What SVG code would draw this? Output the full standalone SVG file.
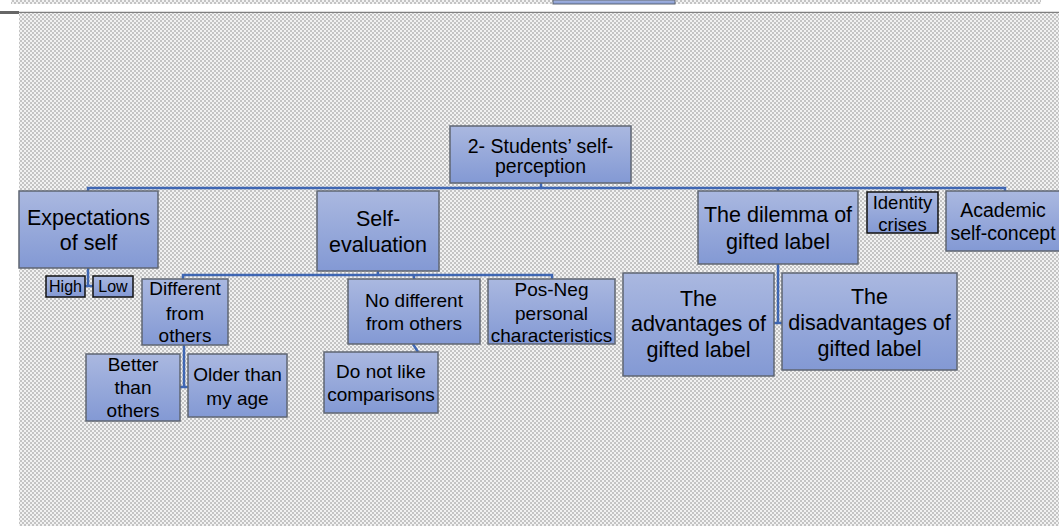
<svg xmlns="http://www.w3.org/2000/svg" width="1059" height="526" viewBox="0 0 1059 526">
  <defs>
    <pattern id="checker" width="4" height="4" patternUnits="userSpaceOnUse">
      <rect width="4" height="4" fill="#f2f2f2"/>
      <rect width="2" height="2" fill="#c4c4c4"/>
      <rect x="2" y="2" width="2" height="2" fill="#c4c4c4"/>
    </pattern>
    <linearGradient id="boxFill" x1="0" y1="0" x2="0" y2="1">
      <stop offset="0" stop-color="#aab8e0"/>
      <stop offset="1" stop-color="#8399d4"/>
    </linearGradient>
  </defs>
  <style>
    .box { fill: url(#boxFill); stroke: #5f6672; stroke-width: 1.5; }
    .sbox { fill: url(#boxFill); stroke: #111; stroke-width: 1.5; }
    .lbl { font-family: "Liberation Sans", Arial, sans-serif; fill: #000; text-anchor: middle; }
    .xl { font-size: 21.5px; }
    .md { font-size: 19px; }
    .sm { font-size: 16px; }
    .conn { fill: none; stroke: #3e66b3; stroke-width: 2.5; }
  </style>

  <!-- page background -->
  <rect width="1059" height="526" fill="#fff"/>
  <rect x="11" y="0" width="1030" height="4" fill="url(#checker)"/>
  <rect x="553" y="0" width="122" height="4" fill="url(#boxFill)" stroke="#5f6672" stroke-width="1"/>
  <line x1="0" y1="12.5" x2="1059" y2="12.5" stroke="#7f7f7f" stroke-width="1.5"/>
  <line x1="0" y1="12.5" x2="19" y2="12.5" stroke="#666" stroke-width="3"/>
  <rect x="19" y="13" width="1040" height="513" fill="url(#checker)"/>

  <!-- connectors -->
  <g id="connectors" class="conn">
    <path d="M88,191 V188 H1005 V191"/>
    <path d="M541,183 V188"/>
    <path d="M378,188 V191"/>
    <path d="M778,188 V191"/>
    <path d="M902,188 V192"/>
    <path d="M88,268 V286 H85 M88,286 H93"/>
    <path d="M378,271 V275"/>
    <path d="M183,279 V275 H552 V279"/>
    <path d="M414,275 V279"/>
    <path d="M184,345 V387 H180 M184,387 H188"/>
    <path d="M413,344 L418,352"/>
    <path d="M778,264 V323 H774 M778,323 H782"/>
  </g>

  <g id="root">
    <rect class="box" x="450" y="126" width="181" height="57"/>
    <text class="lbl" x="540.5" y="153" font-size="19.5">2- Students’ self-</text>
    <text class="lbl" x="540.5" y="173" font-size="19.5">perception</text>
  </g>

  <g id="expectations">
    <rect class="box" x="19" y="191" width="139" height="77"/>
    <text class="lbl xl" x="88.5" y="224.5">Expectations</text>
    <text class="lbl xl" x="88.5" y="249.5">of self</text>
  </g>

  <g id="high">
    <rect class="sbox" x="46" y="276" width="39" height="21"/>
    <text class="lbl sm" x="65.5" y="292">High</text>
  </g>

  <g id="low">
    <rect class="sbox" x="93" y="276" width="40" height="21"/>
    <text class="lbl sm" x="113" y="292">Low</text>
  </g>

  <g id="self-evaluation">
    <rect class="box" x="317" y="191" width="122" height="80"/>
    <text class="lbl xl" x="378" y="225.5">Self-</text>
    <text class="lbl xl" x="378" y="251.5">evaluation</text>
  </g>

  <g id="different">
    <rect class="box" x="142" y="279" width="86" height="66"/>
    <text class="lbl md" x="185" y="294.5">Different</text>
    <text class="lbl md" x="185" y="319.5">from</text>
    <text class="lbl md" x="185" y="341.5">others</text>
  </g>

  <g id="better">
    <rect class="box" x="86" y="354" width="94" height="67"/>
    <text class="lbl md" x="133" y="370.5">Better</text>
    <text class="lbl md" x="133" y="393.5">than</text>
    <text class="lbl md" x="133" y="416.5">others</text>
  </g>

  <g id="older">
    <rect class="box" x="188" y="354" width="99" height="63"/>
    <text class="lbl md" x="237.5" y="380.5">Older than</text>
    <text class="lbl md" x="237.5" y="404.5">my age</text>
  </g>

  <g id="no-different">
    <rect class="box" x="348" y="279" width="132" height="65"/>
    <text class="lbl md" x="414" y="306.5">No different</text>
    <text class="lbl md" x="414" y="329.5">from others</text>
  </g>

  <g id="comparisons">
    <rect class="box" x="324" y="352" width="114" height="61"/>
    <text class="lbl md" x="381" y="377.5">Do not like</text>
    <text class="lbl md" x="381" y="400.5">comparisons</text>
  </g>

  <g id="pos-neg">
    <rect class="box" x="488" y="279" width="127" height="65"/>
    <text class="lbl md" x="551.5" y="295.5">Pos-Neg</text>
    <text class="lbl md" x="551.5" y="319.5">personal</text>
    <text class="lbl md" x="551.5" y="341.5">characteristics</text>
  </g>

  <g id="dilemma">
    <rect class="box" x="698" y="191" width="160" height="73"/>
    <text class="lbl xl" x="778" y="221.5">The dilemma of</text>
    <text class="lbl xl" x="778" y="248.5">gifted label</text>
  </g>

  <g id="advantages">
    <rect class="box" x="623" y="273" width="151" height="103"/>
    <text class="lbl xl" x="698.5" y="305.5">The</text>
    <text class="lbl xl" x="698.5" y="330.5">advantages of</text>
    <text class="lbl xl" x="698.5" y="356.5">gifted label</text>
  </g>

  <g id="disadvantages">
    <rect class="box" x="782" y="273" width="175" height="97"/>
    <text class="lbl xl" x="869.5" y="303.5">The</text>
    <text class="lbl xl" x="869.5" y="329.5">disadvantages of</text>
    <text class="lbl xl" x="869.5" y="355.5">gifted label</text>
  </g>

  <g id="identity">
    <rect class="sbox" x="867" y="192" width="71" height="41"/>
    <text class="lbl" x="902.5" y="208.5" font-size="18.5">Identity</text>
    <text class="lbl" x="902.5" y="230.5" font-size="18.5">crises</text>
  </g>

  <g id="academic">
    <rect class="box" x="946" y="191" width="116" height="60"/>
    <text class="lbl" x="1003" y="217" font-size="19.5">Academic</text>
    <text class="lbl" x="1003" y="240" font-size="19.5">self-concept</text>
  </g>
</svg>
